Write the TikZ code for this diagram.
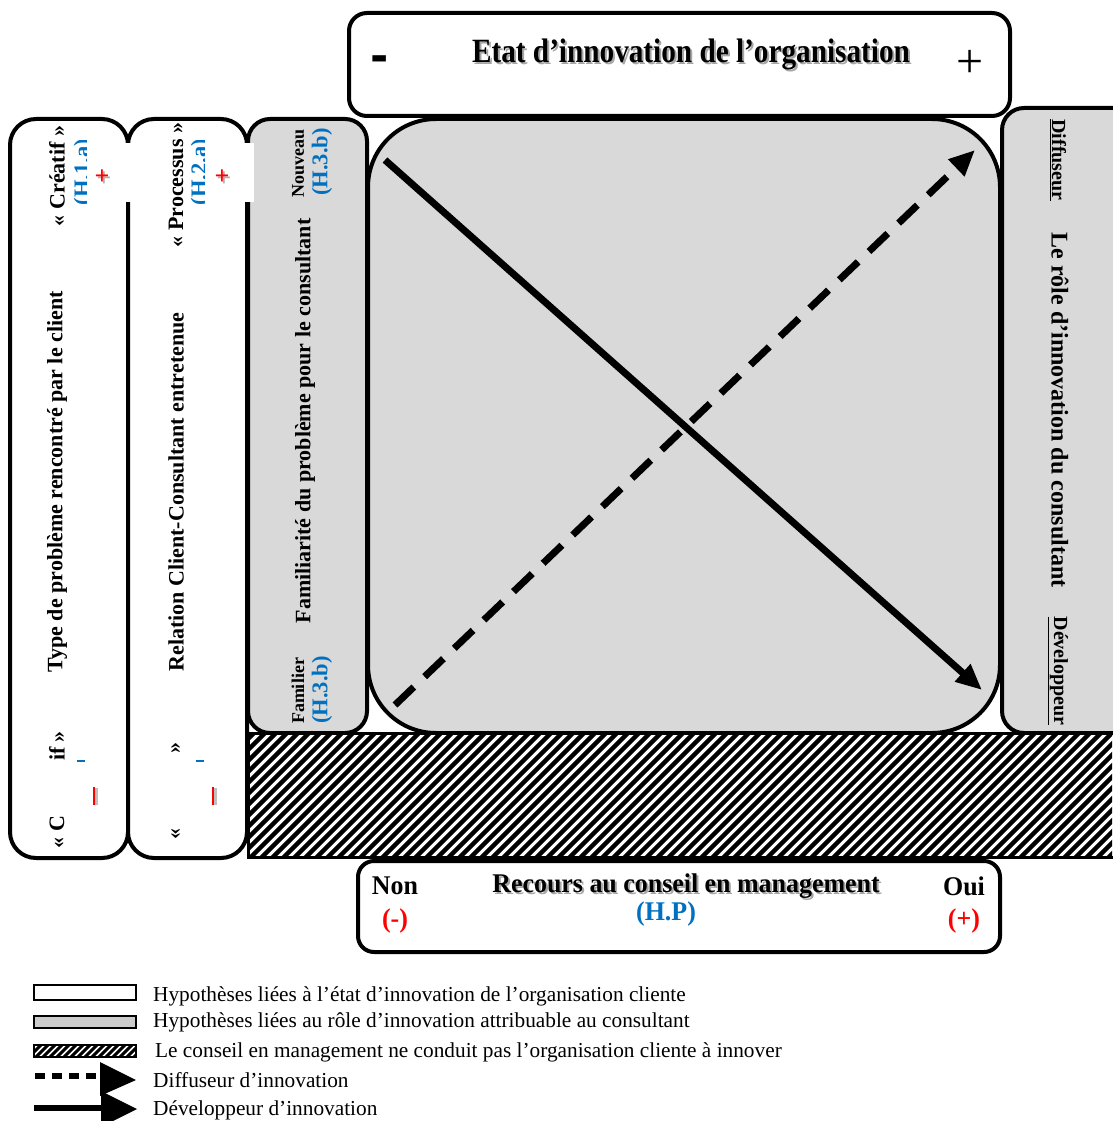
\documentclass[tikz,border=0pt]{standalone}
\usepackage{fontspec}
\setmainfont{Liberation Serif}
\newfontfamily\djbold{DejaVu Sans}
\usetikzlibrary{arrows.meta}
\definecolor{grayfill}{HTML}{D9D9D9}
\definecolor{hblue}{HTML}{0070C0}
\definecolor{hred}{HTML}{FF0000}
\begin{document}
\begin{tikzpicture}[x=1pt,y=-1pt,
  frame/.style={draw=black,line width=4pt},
  vlabel/.style={font=\fontsize{22}{24}\selectfont\bfseries,inner sep=0pt},
  smlabel/.style={font=\fontsize{18}{20}\selectfont\bfseries,inner sep=0pt},
  hyp/.style={font=\fontsize{22.5}{24}\selectfont\bfseries,text=hblue,inner sep=0pt},
  bigtitle/.style={font=\fontsize{34}{36}\selectfont\bfseries,inner sep=0pt},
  midtitle/.style={font=\fontsize{27}{29}\selectfont\bfseries,inner sep=0pt},
  redsign/.style={font=\fontsize{26}{28}\selectfont\bfseries,text=hred,inner sep=0pt},
  legtext/.style={font=\fontsize{21.3}{23}\selectfont,anchor=west,inner sep=0pt},
  bigarrow/.style={line width=7pt,-{Triangle[length=26pt,width=22pt]}}
]
\useasboundingbox (0,0) rectangle (1112,1121);

% right column (gray)
\draw[frame,fill=grayfill,rounded corners=22pt] (1002,108) rectangle (1135,733);
% left columns
\draw[frame,fill=white,rounded corners=26pt] (10,119) rectangle (128,858);
\draw[frame,fill=white,rounded corners=26pt] (128,119) rectangle (247,858);
% column 3 gray
\draw[frame,fill=grayfill,rounded corners=22pt] (248,119) rectangle (367,733);
% main square
\draw[frame,fill=grayfill,rounded corners=68pt] (368,119) rectangle (1000,733);

% hatched band
\begin{scope}
  \clip (248,733) rectangle (1112,858);
  \fill[white] (248,733) rectangle (1112,858);
  \foreach \i in {0,...,92}
    \draw[line width=4.5pt] ({248+\i*11-130},858) -- ++(130,-130);
\end{scope}
\draw[line width=3pt] (248,733) rectangle (1120,857);

% top box
\draw[frame,fill=white,rounded corners=18pt] (349,13) rectangle (1010,116);
\node[bigtitle,text=gray!70,xscale=0.86] at (693,56) {Etat d’innovation de l’organisation};
\node[bigtitle,xscale=0.86] (title) at (691,54) {Etat d’innovation de l’organisation};
\node[font=\fontsize{44}{46}\selectfont\djbold\bfseries,inner sep=0pt] (minus) at (380,64) {-};
\node[font=\fontsize{48}{48}\selectfont,inner sep=0pt] (plus) at (970,64) {+};

% bottom box
\draw[frame,fill=white,rounded corners=16pt] (358,861) rectangle (1000,952);
\node[midtitle,text=gray!70,xscale=0.96] at (688,888) {Recours au conseil en management};
\node[midtitle,xscale=0.96] (recours) at (686,886) {Recours au conseil en management};
\node[midtitle,xscale=0.96] (non) at (395,886) {Non};
\node[midtitle,xscale=0.96] (oui) at (964,886) {Oui};
\node[midtitle,text=hred,xscale=0.96] (nonm) at (395,921) {(-)};
\node[midtitle,text=hred,xscale=0.96] (ouip) at (964,921) {(+)};
\node[midtitle,text=hblue,xscale=0.96] (hp) at (666,914) {(H.P)};

% diagonal arrows
\coordinate (sA) at (385,160);
\coordinate (sB) at (982,690);
\coordinate (dA) at (395,705);
\coordinate (dB) at (975,150);
\draw[bigarrow] (sA) -- (sB);
\draw[bigarrow,dash pattern=on 26pt off 15pt] (dA) -- (dB);

% partially hidden blue hypotheses (top)
\begin{scope}
  \clip (70,140) rectangle (86,205);
  \node[hyp,rotate=90] (h1) at (84,172) {(H.1.a)};
\end{scope}
\fill[white] (88,143) rectangle (254,202);
\begin{scope}
  \clip (190,140) rectangle (204,205);
  \node[hyp,rotate=90] (h2) at (201,172) {(H.2.a)};
\end{scope}

% column 1 labels
\node[vlabel,rotate=90] (c1) at (57,482) {Type de problème rencontré par le client};
\node[vlabel,rotate=90] (c1top) at (57,176) {« Créatif »};
\node[vlabel,rotate=90] (c1botA) at (57,832) {« C};
\node[vlabel,rotate=90] (c1botB) at (57,746) {if »};
% column 2 labels
\node[vlabel,rotate=90] (c2) at (176,492) {Relation Client-Consultant entretenue};
\node[vlabel,rotate=90] (c2top) at (176,185) {« Processus »};
\node[vlabel,rotate=90] (c2botA) at (176,834) {«};
\node[vlabel,rotate=90] (c2botB) at (176,748) {»};

\node[redsign,text=gray!60] at (104,179) {+};
\node[redsign] (p1) at (102,177) {+};
\node[redsign,text=gray!60] at (224,179) {+};
\node[redsign] (p2) at (222,177) {+};
% bottom fragments
\draw[hblue,line width=2pt] (77,761) -- (85,761);
\draw[hblue,line width=2pt] (196,761) -- (204,761);
\draw[gray!50,line width=3pt] (96,788) -- (96,805);
\draw[hred,line width=2.5pt] (94,787) -- (94,805);
\draw[gray!50,line width=3pt] (215,788) -- (215,805);
\draw[hred,line width=2.5pt] (213,787) -- (213,805);

% column 3 labels
\node[vlabel,rotate=90] (c3) at (305,421) {Familiarité du problème pour le consultant};
\node[smlabel,rotate=90] (nouv) at (298,163) {Nouveau};
\node[hyp,rotate=90] (h3a) at (322,162) {(H.3.b)};
\node[smlabel,rotate=90] (fam) at (298,691) {Familier};
\node[hyp,rotate=90] (h3b) at (322,690) {(H.3.b)};

% right column labels
\node[vlabel,font=\fontsize{24}{26}\selectfont\bfseries,rotate=-90] (rc) at (1060,410) {Le rôle d’innovation du consultant};
\node[smlabel,font=\fontsize{20}{22}\selectfont\bfseries,rotate=-90] (diff) at (1058,160) {\underline{Diffuseur}};
\node[smlabel,font=\fontsize{20}{22}\selectfont\bfseries,rotate=-90] (dev) at (1058,671) {\underline{Développeur}};

% legend
\draw[line width=1.5pt,fill=white] (34,985) rectangle (136,1000);
\draw[line width=1.5pt,fill=lightgray!80] (34,1016) rectangle (136,1028);
\begin{scope}
  \clip (34,1045) rectangle (136,1057);
  \foreach \i in {0,...,16}
    \draw[line width=3pt] ({34+\i*7-12},1057) -- ++(12,-12);
\end{scope}
\draw[line width=1.2pt] (34,1045) rectangle (136,1057);
\coordinate (l1a) at (35,1076);
\coordinate (l1b) at (100,1076);
\coordinate (l2a) at (34,1108);
\coordinate (l2b) at (102,1108);
\draw[line width=6pt,dash pattern=on 10pt off 7pt] (l1a) -- (l1b);
\fill (100,1062) -- (136,1080) -- (100,1096) -- cycle;
\draw[line width=6pt] (l2a) -- (l2b);
\fill (101,1091) -- (137,1109) -- (101,1127) -- cycle;
\node[legtext] (lg1) at (153,996) {Hypothèses liées à l’état d’innovation de l’organisation cliente};
\node[legtext] (lg2) at (153,1022) {Hypothèses liées au rôle d’innovation attribuable au consultant};
\node[legtext] (lg3) at (155,1052) {Le conseil en management ne conduit pas l’organisation cliente à innover};
\node[legtext] (lg4) at (153,1080) {Diffuseur d’innovation};
\node[legtext] (lg5) at (153,1110) {Développeur d’innovation};
\end{tikzpicture}
\end{document}
